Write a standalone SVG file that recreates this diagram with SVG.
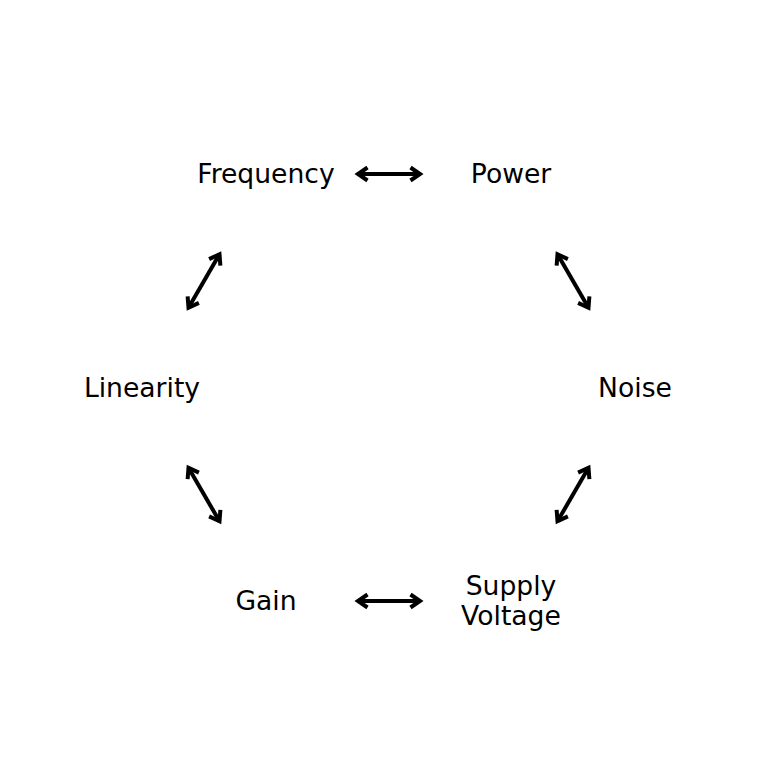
<svg xmlns="http://www.w3.org/2000/svg" width="777" height="777" viewBox="0 0 777 777">
<style>
.lbl{font-family:"DejaVu Sans",sans-serif;font-size:26.6px;fill:#000;text-anchor:middle}
.arr{stroke:#000;stroke-width:4;fill:none;marker-start:url(#hd);marker-end:url(#hd)}
</style>
<defs>
<marker id="hd" markerUnits="userSpaceOnUse" viewBox="-14 -9 16 18" markerWidth="16" markerHeight="18" refX="0" refY="0" orient="auto-start-reverse" overflow="visible">
<path d="M -9.5 -6.5 L 0 0 L -9.5 6.5" fill="none" stroke="#000" stroke-width="4" stroke-linejoin="miter" stroke-miterlimit="10"/>
</marker>
</defs>
<rect width="777" height="777" fill="#fff"/>
<g id="connectors">
<line class="arr" x1="358" y1="174" x2="420" y2="174"/>
<line class="arr" x1="557.5" y1="254.2" x2="588.5" y2="307.8"/>
<line class="arr" x1="588.5" y1="467.7" x2="557.5" y2="521.3"/>
<line class="arr" x1="358" y1="601" x2="420" y2="601"/>
<line class="arr" x1="188.5" y1="467.7" x2="219.5" y2="521.3"/>
<line class="arr" x1="219.5" y1="254.2" x2="188.5" y2="307.8"/>
</g>
<g id="frequency"><text class="lbl" x="266" y="183">Frequency</text></g>
<g id="power"><text class="lbl" x="511" y="183">Power</text></g>
<g id="noise"><text class="lbl" x="635" y="397">Noise</text></g>
<g id="supply-voltage"><text class="lbl" x="511" y="595">Supply</text><text class="lbl" x="511" y="625">Voltage</text></g>
<g id="gain"><text class="lbl" x="266" y="610">Gain</text></g>
<g id="linearity"><text class="lbl" x="142" y="397">Linearity</text></g>
</svg>
